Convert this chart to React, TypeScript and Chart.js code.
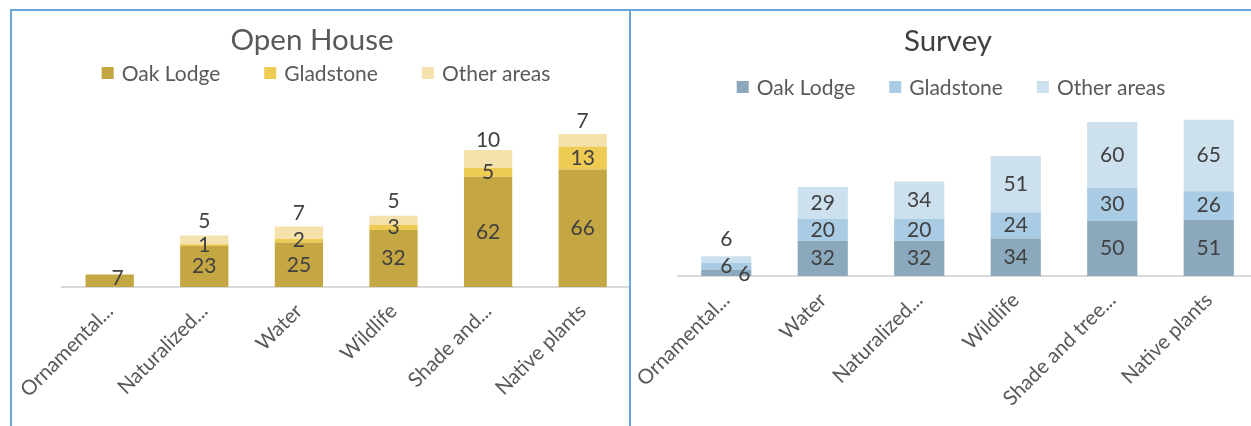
import React, { useEffect, useRef } from 'react';
import { Chart, registerables } from 'chart.js';

Chart.register(...registerables);

const FONT = 'Lato, "Open Sans", sans-serif';

// ---------- data ----------
const seriesNames = ['Oak Lodge', 'Gladstone', 'Other areas'];

const openCategories = ['Ornamental...', 'Naturalized...', 'Water', 'Wildlife', 'Shade and...', 'Native plants'];
const openOak = [7, 23, 25, 32, 62, 66];
const openGladstone = [0, 1, 2, 3, 5, 13];
const openOther = [0, 5, 7, 5, 10, 7];

const surveyCategories = ['Ornamental...', 'Water', 'Naturalized...', 'Wildlife', 'Shade and tree...', 'Native plants'];
const surveyOak = [6, 32, 32, 34, 50, 51];
const surveyGladstone = [6, 20, 20, 24, 30, 26];
const surveyOther = [6, 29, 34, 51, 60, 65];

// ---------- styles ----------
const openColors = ['#C4A642', '#EECB52', '#F5E1AC'];
const surveyColors = ['#8BA8BD', '#A9CCE4', '#CDE0EE'];

const headerPlugin = {
  id: 'panelHeader',
  afterDraw(chart: any, _args: any, opts: any) {
    const ctx = chart.ctx as CanvasRenderingContext2D;
    ctx.save();
    ctx.fillStyle = opts.titleColor;
    ctx.font = `${opts.titleSize}px ${FONT}`;
    ctx.textAlign = 'center';
    ctx.textBaseline = 'middle';
    ctx.fillText(opts.title, opts.titleX, opts.titleY);

    ctx.font = `${opts.legendSize}px ${FONT}`;
    const items = chart.data.datasets.map((d: any) => ({ text: d.label, color: d.backgroundColor }));
    const widths = items.map((it: any) => opts.box + opts.boxGap + ctx.measureText(it.text).width);
    const total = widths.reduce((a: number, b: number) => a + b, 0) + opts.itemGap * (items.length - 1);
    let x = opts.legendX - total / 2;
    ctx.textAlign = 'left';
    items.forEach((it: any, i: number) => {
      ctx.fillStyle = it.color;
      ctx.fillRect(x, opts.legendY - opts.box / 2, opts.box, opts.box);
      ctx.fillStyle = opts.legendColor;
      ctx.fillText(it.text, x + opts.box + opts.boxGap, opts.legendY + 1);
      x += widths[i] + opts.itemGap;
    });
    ctx.restore();
  },
};

const barLabelPlugin = {
  id: 'barLabels',
  afterDatasetsDraw(chart: any, _args: any, opts: any) {
    const ctx = chart.ctx as CanvasRenderingContext2D;
    ctx.save();
    ctx.font = `${opts.size}px ${FONT}`;
    ctx.fillStyle = opts.color;
    ctx.textAlign = 'center';
    ctx.textBaseline = 'middle';
    chart.data.datasets.forEach((ds: any, di: number) => {
      const meta = chart.getDatasetMeta(di);
      meta.data.forEach((el: any, i: number) => {
        const v = ds.data[i];
        if (!v) return;
        const p = el.getProps(['x', 'y', 'base'], true);
        const n = (opts.nudge && opts.nudge(di, i)) || [0, 0];
        ctx.fillText(String(v), p.x + n[0], (p.y + p.base) / 2 + n[1]);
      });
    });
    ctx.restore();
  },
};

function makeConfig(p: {
  categories: string[];
  series: number[][];
  colors: string[];
  title: string;
  yMax: number;
  padding: any;
  xHeight: number;
  barPct: number;
  header: any;
  nudge: (d: number, i: number) => number[] | null;
}) {
  return {
    type: 'bar' as const,
    data: {
      labels: p.categories,
      datasets: p.series.map((s, k) => ({
        label: seriesNames[k],
        data: s,
        backgroundColor: p.colors[k],
        borderWidth: 0,
        categoryPercentage: 1,
        barPercentage: p.barPct,
      })),
    },
    options: {
      responsive: false,
      animation: false,
      devicePixelRatio: 1,
      layout: { padding: p.padding },
      plugins: {
        legend: { display: false },
        title: { display: false },
        tooltip: { enabled: false },
        panelHeader: { ...p.header, title: p.title },
        barLabels: { size: 21, color: '#404040', nudge: p.nudge },
      },
      scales: {
        x: {
          stacked: true,
          grid: { display: false },
          border: { display: true, color: '#D9D9D9', width: 2 },
          ticks: {
            autoSkip: false,
            maxRotation: 45,
            minRotation: 45,
            padding: 4,
            color: '#595959',
            font: { family: FONT, size: 20.5 },
          },
          afterFit: (scale: any) => {
            scale.height = p.xHeight;
          },
        },
        y: {
          stacked: true,
          display: false,
          min: 0,
          max: p.yMax,
        },
      },
    },
    plugins: [headerPlugin, barLabelPlugin],
  };
}

function ChartPanel(props: { config: any; left: number; top: number; width: number; height: number }) {
  const ref = useRef<HTMLCanvasElement>(null);
  useEffect(() => {
    const chart = new Chart(ref.current as HTMLCanvasElement, props.config);
    return () => chart.destroy();
  }, []);
  return (
    <canvas
      ref={ref}
      width={props.width}
      height={props.height}
      style={{ position: 'absolute', left: props.left, top: props.top, width: props.width, height: props.height }}
    />
  );
}

const openConfig = makeConfig({
  categories: openCategories,
  series: [openOak, openGladstone, openOther],
  colors: openColors,
  title: 'Open House',
  yMax: 100,
  padding: { top: 98, left: 50.4, right: 0, bottom: 0 },
  xHeight: 139,
  barPct: 0.51,
  header: {
    titleSize: 29.5, titleColor: '#595959', titleX: 300, titleY: 29,
    legendSize: 21, legendColor: '#595959', legendX: 314, legendY: 62,
    box: 12, boxGap: 8, itemGap: 44,
  },
  nudge: (d, i) => {
    if (d === 2) return [0, -19];
    if (d === 0 && i === 0) return [8, -3];
    return null;
  },
});

const surveyConfig = makeConfig({
  categories: surveyCategories,
  series: [surveyOak, surveyGladstone, surveyOther],
  colors: surveyColors,
  title: 'Survey',
  yMax: 160,
  padding: { top: 89, left: 46, right: 13, bottom: 0 },
  xHeight: 150,
  barPct: 0.52,
  header: {
    titleSize: 29.5, titleColor: '#404040', titleX: 316, titleY: 30,
    legendSize: 21, legendColor: '#595959', legendX: 319, legendY: 76,
    box: 12, boxGap: 8, itemGap: 34,
  },
  nudge: (d, i) => {
    if (i === 0 && d === 2) return [0, -20];
    if (i === 0 && d === 0) return [18, 2];
    return null;
  },
});

const line = '#6AA5D9';

export default function App() {
  return (
    <div style={{ position: 'fixed', left: 0, top: 0, width: 1251, height: 426, overflow: 'hidden', background: '#fff' }}>
      <ChartPanel config={openConfig} left={12} top={11} width={618} height={415} />
      <ChartPanel config={surveyConfig} left={632} top={11} width={638} height={415} />
      <div style={{ position: 'absolute', left: 10, top: 9, width: 1241, height: 2, background: line }} />
      <div style={{ position: 'absolute', left: 10, top: 9, width: 2, height: 417, background: line }} />
      <div style={{ position: 'absolute', left: 629, top: 9, width: 2, height: 417, background: line }} />
    </div>
  );
}
